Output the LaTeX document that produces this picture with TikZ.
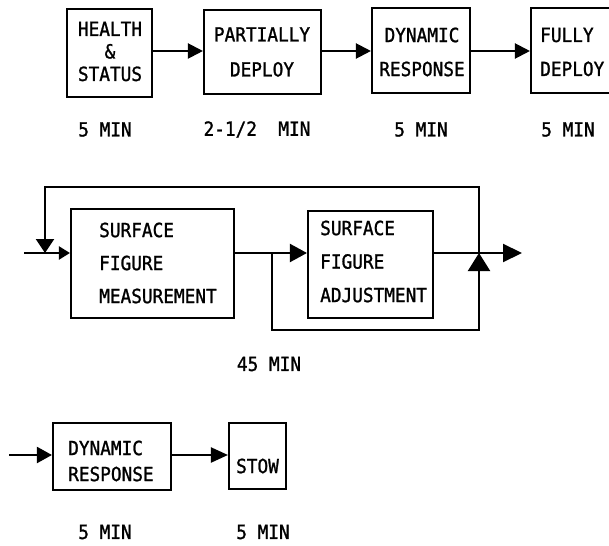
\documentclass[tikz,border=0pt]{standalone}
\usepackage{fontspec}
\usetikzlibrary{arrows.meta}
\newfontfamily\lab[FakeStretch=0.91,FakeBold=1.2]{DejaVu Sans Mono}
\tikzset{
  blk/.style={draw, line width=2.1pt, inner sep=0pt},
  txt/.style={inner sep=0pt, font=\lab\fontsize{19.5}{#1}\selectfont},
  txt/.default=33,
  ln/.style={line width=2.1pt},
  arr/.style={ln, -{Triangle[length=15pt,width=15pt]}},
}
\begin{document}
\begin{tikzpicture}[x=1pt,y=-1pt]
\path[use as bounding box] (0,0) rectangle (609,545);
\clip (0,0) rectangle (609,545);
% ---------- row 1 ----------
\node[blk, minimum width=85pt, minimum height=88pt] (hs) at (109.5,53) {};
\node[blk, minimum width=117pt, minimum height=84pt] (pd) at (262.5,52) {};
\node[blk, minimum width=98pt, minimum height=85pt] (dr1) at (421,50.5) {};
\node[blk, minimum width=84pt, minimum height=85pt] (fd) at (573,50.5) {};
\node[txt=22.5, align=center] (hst) at (110,51.5) {HEALTH\\\&\\STATUS};
\node[txt=35, align=center] (pdt) at (262,52) {PARTIALLY\\DEPLOY};
\node[txt=34, align=center] (dr1t) at (422,52) {DYNAMIC\\RESPONSE};
\node[txt=34, align=left, anchor=west] (fdt) at (540,52) {FULLY\\DEPLOY};
\draw[arr] (hs.east |- 0,51) -- (pd.west |- 0,51);
\draw[arr] (pd.east |- 0,51) -- (dr1.west |- 0,51);
\draw[arr] (dr1.east |- 0,51) -- (fd.west |- 0,51);
\node[txt] (l1) at (105,129.5) {5 MIN};
\node[txt] (l2) at (257,129.5) {2-1/2\ \ MIN};
\node[txt] (l3) at (421,129.5) {5 MIN};
\node[txt] (l4) at (568,129.5) {5 MIN};
% ---------- row 2 ----------
\node[blk, minimum width=163pt, minimum height=109pt] (sfm) at (152.5,263.5) {};
\node[blk, minimum width=125pt, minimum height=107pt] (sfa) at (370.5,264.5) {};
\node[txt=33, align=left, anchor=west] (sfmt) at (99,263) {SURFACE\\FIGURE\\MEASUREMENT};
\node[txt=33.5, align=left, anchor=west] (sfat) at (320,261.5) {SURFACE\\FIGURE\\ADJUSTMENT};
\coordinate (in2) at (24,253);
\coordinate (jl) at (45,253);
\coordinate (jm) at (272,253);
\coordinate (jr) at (479,253);
\coordinate (tl) at (45,187);
\coordinate (bl) at (272,330);
\coordinate (out2) at (522,253);
\draw[ln, -{Triangle[length=11pt,width=13pt]}] (in2) -- (sfm.west |- in2);
\draw[ln, -{Triangle[length=14pt,width=18pt]}] (jr) |- (tl) -- (jl);
\draw[ln, -{Triangle[length=17pt,width=18pt]}] (sfm.east |- jm) -- (sfa.west |- jm);
\draw[ln, -{Triangle[length=18pt,width=22pt]}] (jm) -- (bl) -| (jr);
\draw[ln, -{Triangle[length=19pt,width=18pt]}] (sfa.east |- jr) -- (out2);
\node[txt] (l5) at (269,364) {45 MIN};
% ---------- row 3 ----------
\node[blk, minimum width=118pt, minimum height=67pt] (dr2) at (112,456.5) {};
\node[blk, minimum width=57pt, minimum height=66pt] (st) at (257.5,456) {};
\node[txt=26, align=left, anchor=west] (dr2t) at (68,461) {DYNAMIC\\RESPONSE};
\node[txt] (stt) at (257.5,466) {STOW};
\coordinate (in3) at (9,455);
\draw[ln, -{Triangle[length=15pt,width=16pt]}] (in3) -- (dr2.west |- in3);
\draw[ln, -{Triangle[length=17pt,width=15pt]}] (dr2.east |- in3) -- (st.west |- in3);
\node[txt] (l6) at (105,532) {5 MIN};
\node[txt] (l7) at (263,532) {5 MIN};
\end{tikzpicture}
\end{document}
